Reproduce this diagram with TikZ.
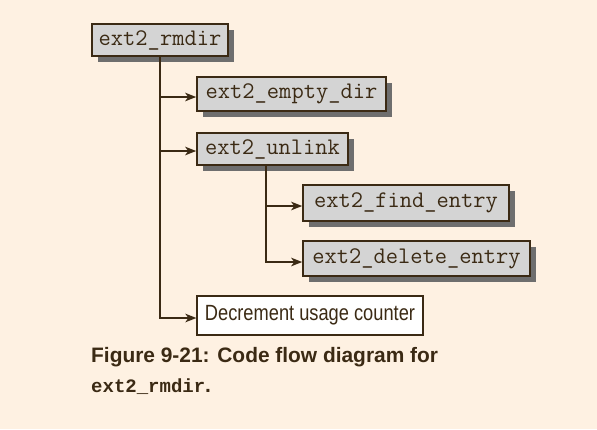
\documentclass[tikz,border=0pt]{standalone}
\usepackage{fontspec}
\setmainfont{Liberation Sans}
\newfontfamily\boxbold{Liberation Mono}
\newfontfamily\capsans{Liberation Sans}
\usetikzlibrary{arrows.meta}
\definecolor{bgcream}{HTML}{FEF1E2}
\definecolor{ink}{HTML}{3B2A14}
\definecolor{boxgray}{HTML}{D4D4D4}
\definecolor{shadowgray}{HTML}{6E6E6E}
\tikzset{
  fnbox/.style={draw=ink, line width=1.6pt, fill=boxgray, text=ink, inner sep=0pt,
    font=\ttfamily\fontsize{23.8}{26}\selectfont,
    preaction={draw=none, fill=shadowgray, transform canvas={shift={(6pt,-5.5pt)}}}},
  plainbox/.style={draw=ink, line width=1.2pt, fill=white, text=ink, inner sep=0pt},
  arr/.style={draw=ink, line width=1.7pt, -{Stealth[length=11pt,width=8.5pt,inset=3pt]}},
  capt/.style={text=ink, inner sep=0pt, anchor=base west}
}
\begin{document}
\begin{tikzpicture}[x=1pt,y=-1pt]
\useasboundingbox[fill=bgcream] (0,0) rectangle (597,429);
\node[fnbox, minimum width=136pt, minimum height=32pt] (rmdir) at (160,40) {ext2\_rmdir};
\node[fnbox, minimum width=189pt, minimum height=34pt] (empty) at (291.5,94) {ext2\_empty\_dir};
\node[fnbox, minimum width=151pt, minimum height=32pt] (unlink) at (272.5,149) {ext2\_unlink};
\node[fnbox, minimum width=206pt, minimum height=36pt] (find) at (406,203) {ext2\_find\_entry};
\node[fnbox, minimum width=227pt, minimum height=35pt] (delete) at (416.5,258.5) {ext2\_delete\_entry};
\node[plainbox, minimum width=226pt, minimum height=39pt] (decr) at (310,315.5)
  {\scalebox{0.83}[1]{\fontsize{22}{24}\selectfont Decrement usage counter}};
\draw[arr] (rmdir.south) |- ([yshift=-3pt]empty.west);
\draw[arr] (rmdir.south) |- ([yshift=-2pt]unlink.west);
\draw[arr] (rmdir.south) |- ([yshift=-2.5pt]decr.west);
\draw[arr] ([xshift=-6.5pt]unlink.south) |- ([yshift=-3pt]find.west);
\draw[arr] ([xshift=-6.5pt]unlink.south) |- ([yshift=-3.5pt]delete.west);
\node[capt, font=\capsans\bfseries\fontsize{20.9}{24}\selectfont] (cap1) at (91,362) {Figure 9-21: Code flow diagram for};
\node[capt, font=\boxbold\bfseries\fontsize{19}{22}\selectfont] (cap2) at (91,392) {ext2\_rmdir\textnormal{\capsans\bfseries\fontsize{20.9}{24}\selectfont .}};
\end{tikzpicture}
\end{document}
